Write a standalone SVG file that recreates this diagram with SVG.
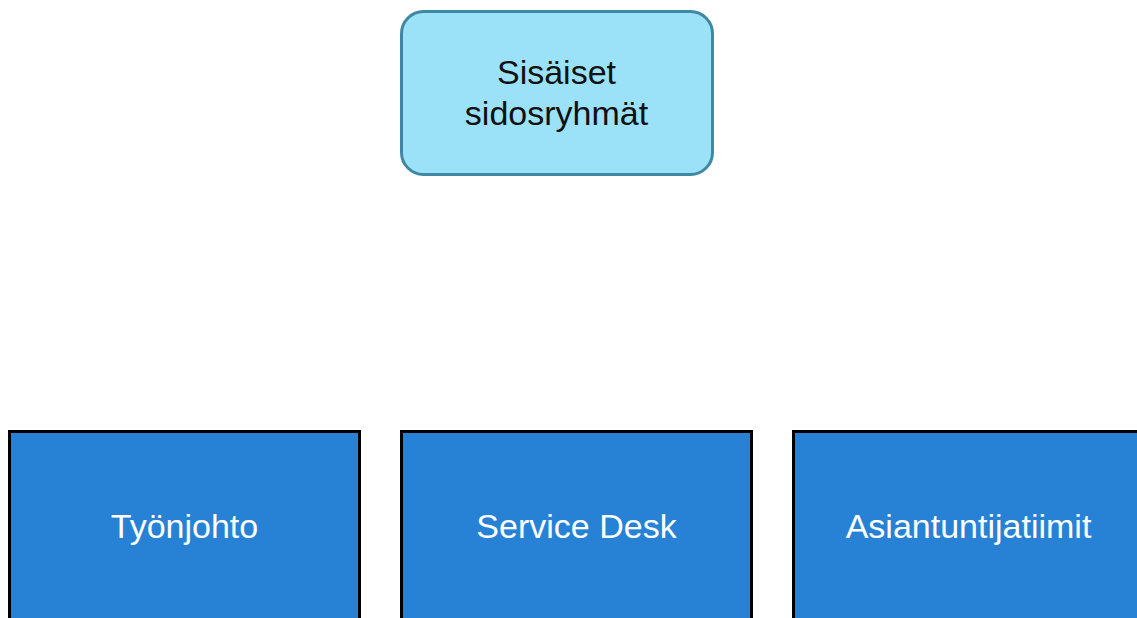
<svg xmlns="http://www.w3.org/2000/svg" width="1137" height="618" viewBox="0 0 1137 618">
<style>
.top{fill:#9be1f8;stroke:#3f88a3;stroke-width:3}
.box{fill:#2782d6;stroke:#000;stroke-width:3}
text{font-family:"Liberation Sans",Arial,sans-serif;font-size:34px;text-anchor:middle}
.dark{fill:#111}
.light{fill:#fff}
</style>
<rect width="1137" height="618" fill="#fff"/>
<g id="connectors"></g>
<g id="sisaiset">
<rect class="top" x="401.5" y="11.5" width="311" height="163" rx="22"/>
<text class="dark" x="556.5" y="84">Sisäiset</text>
<text class="dark" x="556.5" y="125">sidosryhmät</text>
</g>
<g id="tyonjohto">
<rect class="box" x="9.5" y="431.5" width="350" height="200"/>
<text class="light" x="184.5" y="538">Työnjohto</text>
</g>
<g id="servicedesk">
<rect class="box" x="401.5" y="431.5" width="350" height="200"/>
<text class="light" x="576.5" y="538">Service Desk</text>
</g>
<g id="asiantuntijatiimit">
<rect class="box" x="793.5" y="431.5" width="350" height="200"/>
<text class="light" x="968.5" y="538">Asiantuntijatiimit</text>
</g>
</svg>
